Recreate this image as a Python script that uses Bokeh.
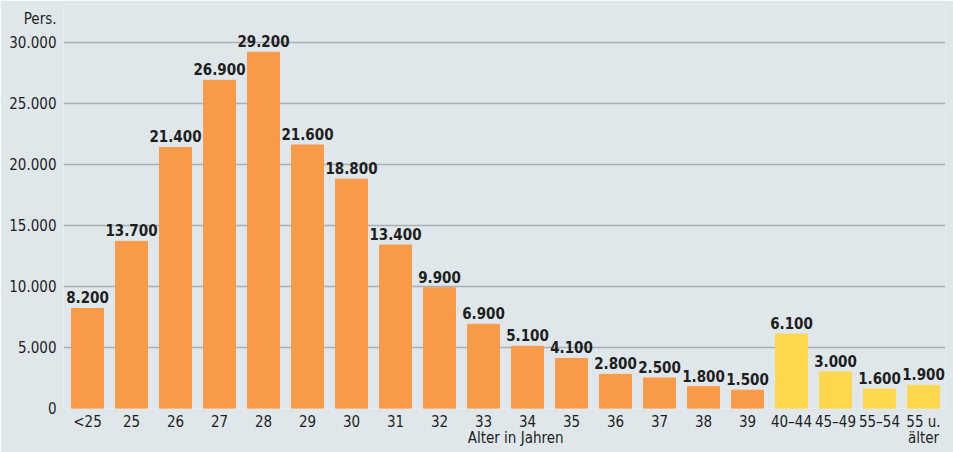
from bokeh.plotting import figure
from bokeh.models import Range1d, FixedTicker, LinearAxis, ColumnDataSource
from bokeh.core.properties import value
from bokeh.embed import file_html
from bokeh.resources import INLINE

categories = ["<25", "25", "26", "27", "28", "29", "30", "31", "32", "33", "34", "35",
              "36", "37", "38", "39", "40–44", "45–49", "55–54", "55 u."]
persons = [8200, 13700, 21400, 26900, 29200, 21600, 18800, 13400, 9900, 6900, 5100,
           4100, 2800, 2500, 1800, 1500, 6100, 3000, 1600, 1900]
group = ["single"] * 16 + ["range"] * 4
y_ticks = [0, 5000, 10000, 15000, 20000, 25000, 30000]
y_unit = "Pers."
x_title = "Alter in Jahren"
last_cat_line2 = "älter"

FONT = "DejaVu Sans Condensed"
ORANGE = "#F99A48"
YELLOW = "#FDD84C"
BG = "#E0E7EB"
GRID = "#A9AFB4"
TXT = "#1E1E1E"
FS = "15px"

def de(n):
    return f"{n:,}".replace(",", ".")

xs = list(range(len(categories)))
src = ColumnDataSource(dict(
    x=xs, top=persons,
    color=[ORANGE if g == "single" else YELLOW for g in group],
    label=[de(v) for v in persons],
))

p = figure(width=953, height=452, output_backend="svg", toolbar_location=None,
           x_range=Range1d(-0.5 - 2 / 44, 19.5), y_range=Range1d(0, 33115),
           min_border_left=63, min_border_right=8, min_border_top=4, min_border_bottom=44)
p.background_fill_color = BG
p.border_fill_color = BG
p.outline_line_color = None

p.vbar(x="x", top="top", width=32 / 44, color="color", source=src)
p.text(x="x", y="top", text="label", source=src, text_align="center", text_baseline="bottom",
       y_offset=-5, text_font=value(FONT), text_font_style="bold", text_font_size="15px",
       text_color=TXT)

p.xgrid.grid_line_color = None
p.ygrid.grid_line_color = GRID
p.ygrid.grid_line_width = 1.5
p.ygrid.ticker = FixedTicker(ticks=y_ticks)

unit_tick = 31900
p.yaxis.ticker = FixedTicker(ticks=y_ticks + [unit_tick])
ov = {t: de(t) for t in y_ticks}
ov[unit_tick] = y_unit
p.yaxis.major_label_overrides = ov
p.yaxis.axis_line_color = None
p.yaxis.major_tick_line_color = None
p.yaxis.minor_tick_line_color = None
p.yaxis.major_label_standoff = 1
p.yaxis.major_label_text_font = FONT
p.yaxis.major_label_text_font_size = FS
p.yaxis.major_label_text_color = TXT

p.xaxis.ticker = FixedTicker(ticks=xs)
p.xaxis.major_label_overrides = {i: c for i, c in enumerate(categories)}
p.xaxis.axis_line_color = None
p.xaxis.major_tick_line_color = None
p.xaxis.minor_tick_line_color = None
p.xaxis.major_label_standoff = -2
p.xaxis.major_label_text_font = FONT
p.xaxis.major_label_text_font_size = FS
p.xaxis.major_label_text_color = TXT

title_x = 9.73
ax2 = LinearAxis(ticker=FixedTicker(ticks=[title_x, xs[-1]]),
                 major_label_overrides={title_x: x_title, xs[-1]: last_cat_line2})
ax2.axis_line_color = None
ax2.major_tick_line_color = None
ax2.minor_tick_line_color = None
ax2.major_label_standoff = -11
ax2.major_label_text_font = FONT
ax2.major_label_text_font_size = FS
ax2.major_label_text_color = TXT
p.add_layout(ax2, "below")

html = file_html(p, INLINE)
open("out.html", "w").write(html)
